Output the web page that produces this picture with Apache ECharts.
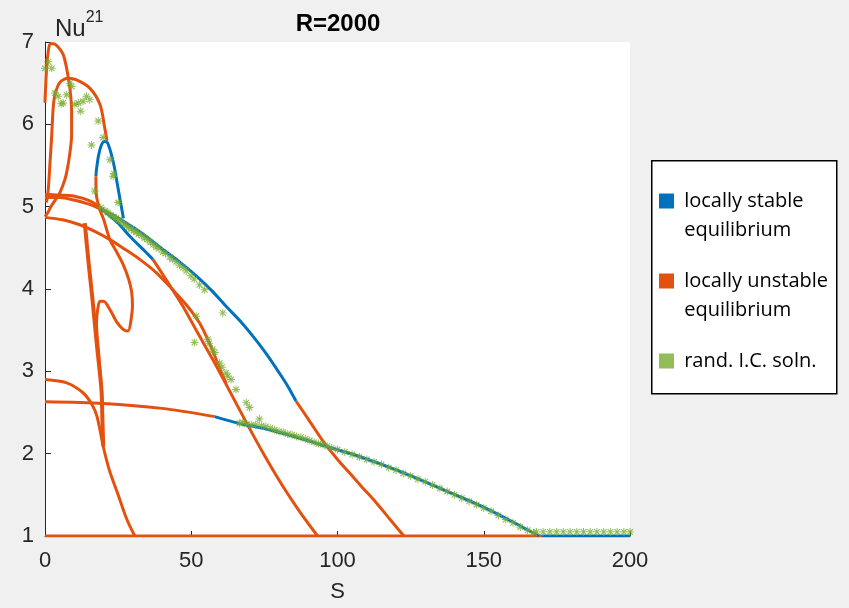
<!DOCTYPE html>
<html>
<head>
<meta charset="utf-8">
<script src="https://cdn.jsdelivr.net/npm/echarts@6/dist/echarts.min.js"></script>
<style>
  html, body { margin: 0; padding: 0; background: #f0f0f0; }
  #chart { width: 849px; height: 608px; }
</style>
</head>
<body>
<div id="chart"></div>
<script>
// axis ticks
var xTicks = [0, 50, 100, 150, 200];
var yTicks = [1, 2, 3, 4, 5, 6, 7];

// locally unstable equilibrium branches [S, Nu]
var unstBottom = [[0, 1], [170, 1]];
var unstMainTail = [[85.8, 2.64], [90, 2.42], [95.5, 2.13], [100, 1.93], [104, 1.77], [108.5, 1.59], [113.1, 1.41], [118, 1.2], [122.7, 1.0]];
var unstLowerTail = [[36.9, 4.36], [42, 4.08], [47, 3.8], [52, 3.48], [57.4, 3.14], [63, 2.77], [68.8, 2.38], [75, 1.98], [81.2, 1.61], [87, 1.3], [93.2, 1.0]];
var unstE = [[0, 4.87], [6, 4.84], [11.9, 4.78], [17, 4.7], [22.2, 4.6], [27, 4.49], [32.4, 4.36], [38, 4.2], [43.7, 3.99], [48.5, 3.8], [52.8, 3.59], [56.5, 3.32], [59.7, 3.04], [62, 2.85]];
var unstA1 = [[0, 5.15], [5, 5.14], [9.7, 5.13], [15.3, 5.07], [19, 4.99]];
var unstA2 = [[0, 5.11], [5, 5.11], [10, 5.08], [15, 5.03], [19, 4.97]];
var unstLoop = [[17.4, 5.37], [17.6, 5.13], [18.8, 4.96], [20, 4.85], [22.2, 4.6], [24.5, 4.45], [26.7, 4.3], [28.5, 4.13], [29.6, 3.97], [29.9, 3.8], [29.4, 3.62], [28.4, 3.49], [26.7, 3.51], [24.5, 3.6], [22.2, 3.75], [20, 3.85], [18.8, 3.85], [18, 3.75], [17.6, 3.59], [18.4, 3.2], [19.3, 2.78]];
var unstSteep = [[13.6, 4.8], [14.9, 4.32], [16.3, 3.85], [17.8, 3.3], [19.3, 2.78], [19.6, 2.45], [19.9, 2.09]];
var unstOuter = [[0, 6.26], [0.5, 6.65], [1.1, 6.88], [1.8, 6.98], [3, 6.98], [4.5, 6.94], [6.2, 6.85], [7.4, 6.68], [8.5, 6.44], [9.1, 6.16], [9.1, 5.87], [8.5, 5.65], [7.6, 5.45], [6.8, 5.33], [5.1, 5.17], [3.5, 5.08], [2, 5.0], [1, 4.93], [0, 4.88]];
var unstInner = [[0.5, 5.05], [1.1, 5.2], [1.7, 5.53], [2.3, 5.87], [2.8, 6.2], [3.4, 6.36], [5.1, 6.51], [7.9, 6.56], [10.8, 6.54], [15.3, 6.44], [18.8, 6.24], [20.5, 5.94], [21.2, 5.8]];
var unstLow29 = [[0, 2.9], [7.4, 2.86], [13, 2.74], [16, 2.6], [17.8, 2.45], [19.9, 2.09], [22, 1.8], [25, 1.5], [28, 1.2], [30.7, 1.0]];
var unstLow26 = [[0, 2.63], [20, 2.61], [40, 2.55], [58, 2.45]];

// locally stable equilibrium branches [S, Nu]
var stabBottom = [[170, 1], [200, 1]];
var stabMain = [[19, 4.98], [23, 4.9], [26, 4.84], [33, 4.68], [40.3, 4.48], [46, 4.33], [51.7, 4.16], [57, 3.98], [61.9, 3.79], [66.5, 3.62], [71, 3.43], [75.5, 3.22], [80.1, 2.98], [83, 2.82], [85.8, 2.64]];
var stabLower = [[19, 4.98], [25, 4.8], [29, 4.64], [33, 4.5], [36.9, 4.36]];
var stabLoop = [[17.4, 5.37], [17.6, 5.45], [18.3, 5.62], [19.2, 5.74], [20.3, 5.79], [21.3, 5.78], [22.5, 5.66], [23.6, 5.5], [24.6, 5.3], [25.5, 5.12], [26.2, 4.98], [26.8, 4.86]];
var stabLow = [[58, 2.45], [66, 2.37], [75.6, 2.3], [86, 2.2], [96, 2.09], [108, 1.96], [121, 1.79], [135, 1.58], [149.4, 1.36], [160, 1.17], [168.8, 1.0]];

// random initial condition solutions [S, Nu]
var randTopLeft = [[1.1, 6.76], [0, 6.68], [2.3, 6.68], [3.4, 6.38], [4.5, 6.34], [6.2, 6.26], [5.5, 6.25], [7.4, 6.36], [8.5, 6.5], [9.1, 6.46], [10.2, 6.24], [11.4, 6.26], [13, 6.28], [12.2, 6.16], [14.2, 6.34], [15.3, 6.3], [18.2, 6.04], [15.9, 5.75], [19.9, 5.84], [22.2, 5.57], [23.3, 5.37], [23.6, 5.4], [17, 5.19], [25, 5.05], [19.1, 4.99]];
var randUpper = [[20.5, 4.95], [21.5, 4.93], [22.5, 4.9], [23.5, 4.88], [24.3, 4.86], [25.2, 4.84], [26, 4.82], [27, 4.79], [27.8, 4.77], [28.6, 4.75], [29.5, 4.73], [30.3, 4.71], [31.2, 4.69], [32, 4.67], [33, 4.65], [34, 4.62], [35, 4.6], [36, 4.57], [37, 4.54], [38, 4.51], [39, 4.49], [40.3, 4.45], [41.2, 4.43], [42.6, 4.39], [43.5, 4.36], [44.8, 4.33], [46, 4.29], [47.2, 4.26], [48.3, 4.22], [49.9, 4.16], [51, 4.12], [52.8, 4.05], [54.6, 3.99]];
var randDescent = [[51.7, 3.67], [60.8, 3.71], [51.1, 3.35], [55.7, 3.39], [56.1, 3.34], [57.3, 3.27], [58, 3.23], [59.7, 3.1], [60.5, 3.05], [61.9, 2.98], [62.5, 2.94], [63.6, 2.9], [65.3, 2.78], [68.8, 2.62], [69.9, 2.56], [73.3, 2.42], [67.6, 2.38], [66.5, 2.37]];
var randLower = [[69, 2.36], [70.5, 2.35], [72, 2.35], [74, 2.34], [75.5, 2.33], [77, 2.31], [78.5, 2.29], [80, 2.27], [81.5, 2.26], [83, 2.24], [84.5, 2.23], [86, 2.21], [87.5, 2.2], [89, 2.18], [90.5, 2.16], [92, 2.14], [93.5, 2.12], [95, 2.11], [96.5, 2.09], [98, 2.07], [100, 2.05], [102.5, 2.02], [105, 1.99], [107.5, 1.96], [110, 1.93], [112.5, 1.9], [115, 1.87], [117.5, 1.83], [120, 1.8], [122.5, 1.76], [125, 1.73], [127.5, 1.69], [130, 1.66], [132.5, 1.62], [135, 1.58], [137.5, 1.54], [140, 1.5], [142.5, 1.46], [145, 1.42], [147.5, 1.38], [150, 1.34], [152.5, 1.3], [155, 1.25], [157.5, 1.2], [160, 1.16], [162.5, 1.11], [165, 1.07], [167, 1.04]];
var randFlat = [[168, 1.05], [170.3, 1.05], [172.6, 1.05], [174.9, 1.05], [177.2, 1.05], [179.5, 1.05], [181.8, 1.05], [184.1, 1.05], [186.4, 1.05], [188.7, 1.05], [191, 1.05], [193.3, 1.05], [195.6, 1.05], [197.9, 1.05], [200, 1.05]];

var colStable = '#0072bd';
var colUnstable = '#e4510f';
var colRand = '#77ac30';

var starPath = 'path://M-0.6,-5h1.2v10h-1.2z M-5,-0.6h10v1.2h-10z M-4,-3L-3,-4L4,3L3,4z M-3,4L-4,3L3,-4L4,-3z';

var unstableSets = [unstBottom, unstMainTail, unstLowerTail, unstE, unstA1, unstA2, unstLoop, unstSteep, unstOuter, unstInner, unstLow29, unstLow26];
var stableSets = [stabBottom, stabMain, stabLower, stabLoop, stabLow];
var randSets = [randTopLeft, randUpper, randDescent, randLower, randFlat];

var series = [];
unstableSets.forEach(function (d) {
  series.push({
    name: 'unstable', type: 'line', data: d, showSymbol: false, smooth: 0.3,
    lineStyle: { color: colUnstable, width: (d === unstSteep ? 4 : 3) },
    itemStyle: { color: colUnstable }, z: 2, silent: true
  });
});
stableSets.forEach(function (d) {
  series.push({
    name: 'stable', type: 'line', data: d, showSymbol: false, smooth: 0.3,
    lineStyle: { color: colStable, width: 3 },
    itemStyle: { color: colStable }, z: 3, silent: true
  });
});
var randAll = [];
randSets.forEach(function (d) { randAll = randAll.concat(d); });
series.push({
  name: 'rand', type: 'scatter', data: randAll, symbol: starPath, symbolSize: 8,
  itemStyle: { color: colRand }, z: 4, silent: true
});

// blank first line keeps the icon level with the first text line
var legendNames = {
  stable: '\n locally stable\n equilibrium',
  unstable: '\n locally unstable\n equilibrium',
  rand: '\n rand. I.C. soln.\n'
};

var chart = echarts.init(document.getElementById('chart'));
chart.setOption({
  backgroundColor: '#f0f0f0',
  animation: false,
  title: {
    text: 'R=2000', left: 338, top: 12, textAlign: 'center', padding: 0,
    textStyle: { fontFamily: 'Liberation Sans', fontWeight: 'bold', fontSize: 24, color: '#000' }
  },
  graphic: [{
    type: 'rect', left: 651, top: 160, z: 0,
    shape: { width: 185, height: 233 },
    style: { fill: '#fff', stroke: '#000', lineWidth: 1.5 }
  }],
  legend: {
    left: 659, top: 157.5, orient: 'vertical', padding: 0, itemGap: -7,
    icon: 'rect', itemWidth: 15, itemHeight: 15, z: 5,
    selectedMode: false,
    formatter: function (n) { return legendNames[n]; },
    textStyle: { fontFamily: 'Open Sans', fontSize: 20, color: '#000', lineHeight: 29 },
    data: ['stable', 'unstable', 'rand']
  },
  grid: {
    left: 45, right: 219, top: 42, bottom: 71,
    show: true, backgroundColor: '#fff', borderWidth: 0
  },
  xAxis: {
    type: 'value', min: 0, max: 200, interval: 50,
    name: 'S', nameLocation: 'middle', nameGap: 45,
    nameTextStyle: { fontFamily: 'Liberation Sans', fontSize: 22, color: '#262626' },
    axisLine: { lineStyle: { color: '#262626', width: 1 } },
    axisTick: { inside: true, length: 5, lineStyle: { color: '#262626' } },
    axisLabel: { fontFamily: 'Liberation Sans', fontSize: 22, color: '#262626', margin: 14,
      formatter: function (v) { return xTicks.indexOf(v) >= 0 ? v : ''; } },
    splitLine: { show: false }
  },
  yAxis: {
    type: 'value', min: 1, max: 7, interval: 1,
    name: '{n|Nu}{s|21}', nameLocation: 'end', nameGap: 1,
    nameTextStyle: {
      align: 'left', verticalAlign: 'bottom', padding: [0, 0, 0, 10],
      rich: {
        n: { fontFamily: 'Liberation Sans', fontSize: 24, color: '#262626', verticalAlign: 'bottom', padding: [7, 0, 0, 0] },
        s: { fontFamily: 'Liberation Sans', fontSize: 16, color: '#262626', verticalAlign: 'top' }
      }
    },
    axisLine: { show: true, lineStyle: { color: '#262626', width: 1 } },
    axisTick: { show: true, inside: true, length: 6, lineStyle: { color: '#262626' } },
    axisLabel: { fontFamily: 'Liberation Sans', fontSize: 22, color: '#262626', margin: 11,
      formatter: function (v) { return yTicks.indexOf(v) >= 0 ? v : ''; } },
    splitLine: { show: false }
  },
  series: series
});
</script>
</body>
</html>
